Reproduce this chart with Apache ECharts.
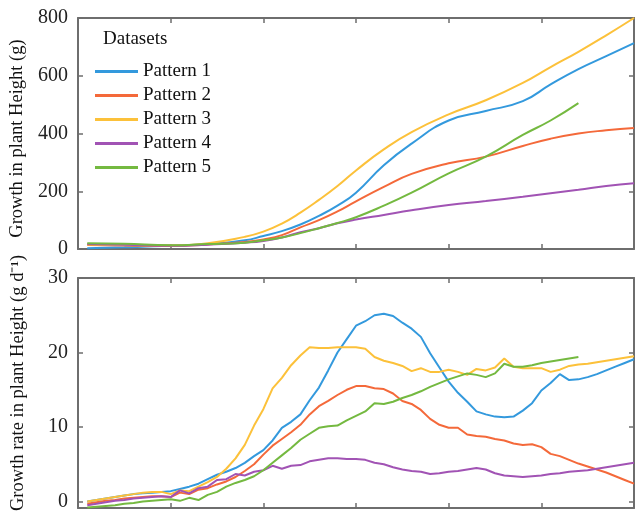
<!DOCTYPE html>
<html>
<head>
<meta charset="utf-8">
<script src="https://cdn.jsdelivr.net/npm/echarts@6/dist/echarts.min.js"></script>
<style>
  html, body { margin: 0; padding: 0; background: #fff; }
  #chart { width: 635px; height: 514px; }
</style>
</head>
<body>
<div id="chart"></div>
<script>
// 数据：上图为累计生长量，下图为生长速率
const patternNames = ["Pattern 1", "Pattern 2", "Pattern 3", "Pattern 4", "Pattern 5"];
const patternColors = ["#3399dd", "#f4693a", "#fcc13a", "#a153b4", "#74b940"];

// 上图（Growth in plant Height）
const growthDays = [1, 5, 10, 14, 18, 20, 22, 24, 26, 28, 30, 33, 36, 40, 44, 48, 51, 54, 57, 60];
const growthP1 = [3, 6, 11, 17, 30, 45, 62, 85, 115, 150, 195, 290, 365, 445, 478, 512, 570, 623, 668, 713];
const growthP2 = [14, 12, 10, 16, 24, 33, 48, 75, 100, 130, 165, 215, 260, 297, 320, 357, 382, 400, 411, 419];
const growthP3 = [16, 14, 13, 20, 42, 60, 88, 126, 170, 218, 272, 345, 405, 466, 515, 575, 630, 683, 740, 800];
const growthP4 = [17, 15, 11, 15, 22, 28, 40, 58, 72, 89, 102, 118, 134, 152, 166, 181, 193, 205, 218, 228];
const growthP5 = [20, 18, 13, 17, 22, 30, 40, 55, 72, 90, 110, 150, 195, 262, 320, 395, 445, 505, null, null];

// 下图（Growth rate）
const rateDays = [1, 2, 3, 4, 5, 6, 7, 8, 9, 10, 11, 12, 13, 14, 15, 16, 17, 18, 19, 20,
  21, 22, 23, 24, 25, 26, 27, 28, 29, 30, 31, 32, 33, 34, 35, 36, 37, 38, 39, 40,
  41, 42, 43, 44, 45, 46, 47, 48, 49, 50, 51, 52, 53, 54, 55, 56, 57, 58, 59, 60];
const rateP1 = [0.0, 0.2, 0.4, 0.6, 0.8, 1.0, 1.1, 1.2, 1.3, 1.4, 1.7, 2.0, 2.4, 3.0, 3.6, 4.0, 4.5, 5.2, 6.1, 6.9,
  8.2, 9.9, 10.7, 11.7, 13.6, 15.3, 17.6, 20.0, 21.8, 23.6, 24.2, 25.0, 25.2, 24.9, 24.0, 23.2, 22.1, 19.9, 18.0, 16.1,
  14.6, 13.4, 12.1, 11.7, 11.4, 11.3, 11.4, 12.2, 13.2, 14.9, 15.9, 17.1, 16.3, 16.4, 16.7, 17.1, 17.6, 18.1, 18.6, 19.1];
const rateP2 = [-0.3, -0.1, 0.1, 0.2, 0.4, 0.5, 0.6, 0.7, 0.7, 0.6, 1.2, 1.0, 1.6, 1.8, 2.3, 2.7, 3.3, 4.1, 5.0, 6.3,
  7.5, 8.4, 9.3, 10.3, 11.7, 12.8, 13.5, 14.3, 15.0, 15.5, 15.5, 15.2, 15.1, 14.5, 13.5, 13.1, 12.3, 11.1, 10.3, 9.9,
  9.9, 9.0, 8.8, 8.7, 8.4, 8.2, 7.8, 7.6, 7.7, 7.3, 6.4, 6.1, 5.6, 5.1, 4.7, 4.3, 3.9, 3.4, 2.9, 2.4];
const rateP3 = [0.0, 0.2, 0.4, 0.6, 0.8, 1.0, 1.2, 1.3, 1.3, 1.0, 1.5, 1.4, 2.0, 2.6, 3.3, 4.4, 5.8, 7.6, 10.2, 12.4,
  15.2, 16.6, 18.3, 19.6, 20.7, 20.6, 20.6, 20.7, 20.7, 20.7, 20.5, 19.4, 18.9, 18.6, 18.2, 17.5, 17.9, 17.4, 17.4, 17.7,
  17.4, 17.0, 17.8, 17.6, 18.0, 19.2, 18.1, 17.9, 17.9, 17.9, 17.4, 17.7, 18.2, 18.4, 18.5, 18.7, 18.9, 19.1, 19.3, 19.5];
const rateP4 = [-0.5, -0.3, -0.1, 0.1, 0.2, 0.4, 0.5, 0.6, 0.7, 0.6, 1.5, 1.1, 1.8, 2.0, 2.9, 3.0, 3.7, 3.5, 4.0, 4.2,
  4.8, 4.4, 4.8, 4.9, 5.4, 5.6, 5.8, 5.8, 5.7, 5.7, 5.6, 5.2, 5.0, 4.6, 4.3, 4.1, 4.0, 3.7, 3.8, 4.0,
  4.1, 4.3, 4.5, 4.3, 3.8, 3.5, 3.4, 3.3, 3.4, 3.5, 3.7, 3.8, 4.0, 4.1, 4.2, 4.4, 4.6, 4.8, 5.0, 5.2];
const rateP5 = [-0.8, -0.7, -0.6, -0.5, -0.3, -0.2, 0.0, 0.1, 0.2, 0.3, 0.1, 0.5, 0.2, 0.9, 1.3, 2.0, 2.5, 2.9, 3.4, 4.2,
  5.2, 6.2, 7.2, 8.3, 9.1, 9.9, 10.1, 10.2, 10.9, 11.5, 12.1, 13.2, 13.1, 13.4, 13.9, 14.3, 14.8, 15.4, 15.9, 16.4,
  16.8, 17.2, 17.0, 16.7, 17.2, 18.5, 18.1, 18.1, 18.3, 18.6, 18.8, 19.0, 19.2, 19.4, null, null, null, null, null, null];

const growthTicks = [0, 200, 400, 600, 800];
const rateTicks = [0, 10, 20, 30];

(function () {
  const myChart = echarts.init(document.getElementById("chart"));
  const serif = "Liberation Serif";
  const axisColor = "#6e6e6e";

  // 把x和y拼成点
  function pairs(xs, ys) {
    return xs.map((x, i) => [x, ys[i]]);
  }

  const growthSets = [growthP1, growthP2, growthP3, growthP4, growthP5];
  const rateSets = [rateP1, rateP2, rateP3, rateP4, rateP5];

  // x轴：上下两个面板各有底部和顶部两条
  function xAxisFor(gridIndex, position) {
    return {
      type: "value",
      gridIndex: gridIndex,
      position: position,
      min: 0,
      max: 60,
      interval: 10,
      axisLine: { show: true, onZero: false, lineStyle: { color: axisColor, width: 2 } },
      axisTick: { show: true, inside: true, length: 5, lineStyle: { color: axisColor, width: 1.5 } },
      axisLabel: { show: false },
      splitLine: { show: false },
    };
  }

  // y轴：名字用padding微调上下位置
  function yAxisFor(gridIndex, position, min, max, ticks, showLabel, name, namePadding) {
    return {
      type: "value",
      gridIndex: gridIndex,
      position: position,
      min: min,
      max: max,
      name: name,
      nameLocation: "middle",
      nameGap: 50,
      nameTextStyle: { fontFamily: serif, fontSize: 18.5, color: "#111", padding: namePadding },
      axisLine: { show: true, onZero: false, lineStyle: { color: axisColor, width: 2 } },
      axisTick: { show: true, inside: true, length: 5, customValues: ticks, lineStyle: { color: axisColor, width: 1.5 } },
      axisLabel: {
        show: showLabel,
        customValues: ticks,
        fontFamily: serif,
        fontSize: 20,
        color: "#222",
        margin: 10,
      },
      splitLine: { show: false },
    };
  }

  const series = [];
  patternNames.forEach((name, i) => {
    series.push({
      name: name,
      type: "line",
      xAxisIndex: 0,
      yAxisIndex: 0,
      smooth: true,
      symbol: "none",
      color: patternColors[i],
      lineStyle: { width: 2 },
      data: pairs(growthDays, growthSets[i]),
    });
  });
  patternNames.forEach((name, i) => {
    series.push({
      name: name,
      type: "line",
      xAxisIndex: 2,
      yAxisIndex: 2,
      symbol: "none",
      color: patternColors[i],
      lineStyle: { width: 2 },
      data: pairs(rateDays, rateSets[i]),
    });
  });

  const option = {
    animation: false,
    backgroundColor: "#fff",
    title: {
      text: "Datasets",
      left: 103,
      top: 30,
      padding: 0,
      textStyle: { fontFamily: serif, fontSize: 19, fontWeight: "normal", color: "#111" },
    },
    legend: {
      data: patternNames,
      orient: "vertical",
      left: 95,
      top: 62,
      padding: 0,
      icon: "rect",
      itemWidth: 43,
      itemHeight: 3,
      itemGap: 5,
      textStyle: { fontFamily: serif, fontSize: 19, color: "#111", lineHeight: 19 },
    },
    grid: [
      { left: 78, right: 1, top: 18, height: 231 },
      { left: 78, right: 1, top: 278, height: 232 },
    ],
    xAxis: [xAxisFor(0, "bottom"), xAxisFor(0, "top"), xAxisFor(1, "bottom"), xAxisFor(1, "top")],
    yAxis: [
      yAxisFor(0, "left", 0, 800, growthTicks, true, "Growth in plant Height (g)", [0, 10, 0, 0]),
      yAxisFor(0, "right", 0, 800, growthTicks, false, "", 0),
      yAxisFor(1, "left", -0.85, 30, rateTicks, true, "Growth rate in plant Height (g d\u207B\u00B9)", [0, 0, 0, 20]),
      yAxisFor(1, "right", -0.85, 30, rateTicks, false, "", 0),
    ],
    series: series,
  };

  myChart.setOption(option);
  window.addEventListener("resize", function () {
    myChart.resize();
  });
})();
</script>
</body>
</html>
